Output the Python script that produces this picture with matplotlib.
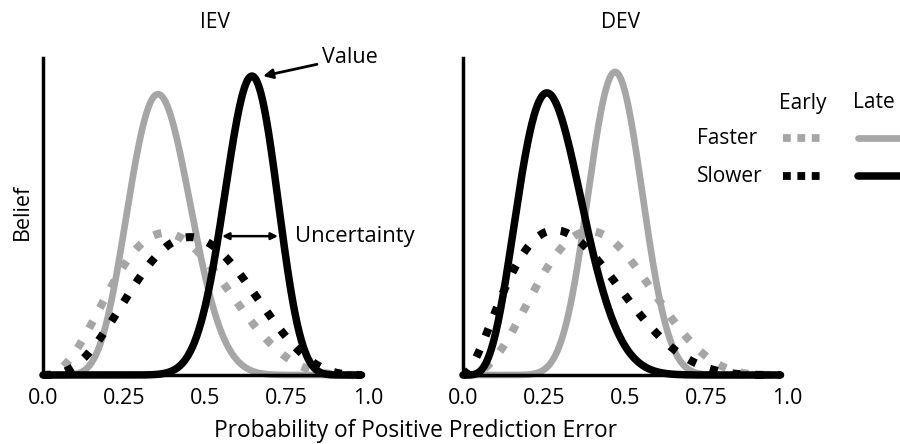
import numpy as np
import matplotlib
matplotlib.use("Agg")
import matplotlib.pyplot as plt
from matplotlib.lines import Line2D

plt.rcParams['font.family'] = ['Open Sans', 'DejaVu Sans']

# belief curves: Beta(a, b) shapes, scaled to the peak height
panels = ['IEV', 'DEV']
curve_names = ['Faster Early', 'Slower Early', 'Faster Late', 'Slower Late']
iev_a = [3.51, 3.94, 9.67, 23.5]
iev_b = [5.19, 4.56, 16.83, 13.5]
iev_peak = [0.448, 0.435, 0.886, 0.943]
dev_a = [3.78, 2.76, 17.9, 5.87]
dev_b = [5.32, 5.44, 20.1, 14.93]
dev_peak = [0.454, 0.457, 0.956, 0.890]

x_ticks = [0.0, 0.25, 0.5, 0.75, 1.0]
x_tick_labels = ['0.0', '0.25', '0.5', '0.75', '1.0']

GRAY = '#a6a6a6'
styles = {
    'Faster Early': dict(color=GRAY, dotted=True),
    'Slower Early': dict(color='black', dotted=True),
    'Faster Late': dict(color=GRAY, dotted=False),
    'Slower Late': dict(color='black', dotted=False),
}
draw_order = ['Faster Late', 'Faster Early', 'Slower Early', 'Slower Late']

W, H = 900, 444


def fx(px):
    return px / W


def fy(py):
    return 1 - py / H


def belief(x, a, b, peak):
    k = x ** (a - 1) * (1 - x) ** (b - 1)
    return peak * k / k.max()


def draw_panel(ax, a_list, b_list, peaks):
    x = np.linspace(0, 0.98, 600)
    for name in draw_order:
        i = curve_names.index(name)
        st = styles[name]
        y = belief(x, a_list[i], b_list[i], peaks[i])
        if st['dotted']:
            ax.plot(x, y, color=st['color'], lw=5.8, linestyle=(0, (1, 1.85)),
                    dash_capstyle='butt', clip_on=False)
        else:
            lw = 5.4 if st['color'] == 'black' else 4.8
            ax.plot(x, y, color=st['color'], lw=lw, solid_capstyle='round',
                    clip_on=False)
    ax.set_xlim(0, 1)
    ax.set_ylim(0, 1)
    for s in ['top', 'right']:
        ax.spines[s].set_visible(False)
    ax.spines['left'].set_linewidth(2.5)
    ax.spines['bottom'].set_linewidth(2.5)
    ax.spines['bottom'].set_bounds(0, 0.98)
    ax.set_yticks([])
    ax.set_xticks(x_ticks)
    ax.set_xticklabels(x_tick_labels)
    ax.tick_params(axis='x', length=0, pad=9, labelsize=15.5)
    ax.patch.set_visible(False)


fig = plt.figure(figsize=(9, 4.44), dpi=100)
ax1 = fig.add_axes([fx(43), fy(375), 325 / W, 317 / H])
ax2 = fig.add_axes([fx(463), fy(375), 324 / W, 317 / H])

draw_panel(ax1, iev_a, iev_b, iev_peak)
draw_panel(ax2, dev_a, dev_b, dev_peak)

fig.text(fx(215), fy(23), panels[0], ha='center', va='center', fontsize=15)
fig.text(fx(621), fy(23), panels[1], ha='center', va='center', fontsize=15)
fig.text(fx(415), fy(431), 'Probability of Positive Prediction Error',
         ha='center', va='center', fontsize=16.4)
fig.text(fx(22), fy(212), 'Belief', ha='center', va='center',
         rotation=90, fontsize=15.5)

# annotations on the IEV panel
ax1.annotate('Value', xy=(0.677, 0.943), xytext=(0.86, 1.003),
             ha='left', va='center', fontsize=15.5, annotation_clip=False,
             arrowprops=dict(arrowstyle='-|>', color='black', lw=2,
                             mutation_scale=14, shrinkA=2, shrinkB=0))
ax1.annotate('', xy=(0.551, 0.438), xytext=(0.723, 0.438),
             annotation_clip=False,
             arrowprops=dict(arrowstyle='<|-|>', color='black', lw=1.8,
                             mutation_scale=10, shrinkA=0, shrinkB=0))
ax1.text(0.775, 0.438, 'Uncertainty', ha='left', va='center', fontsize=15.8)

# hand-built key: rows are speed groups, columns are phases
fig.text(fx(803), fy(103), 'Early', ha='center', va='center', fontsize=15)
fig.text(fx(874), fy(103), 'Late', ha='center', va='center', fontsize=15)
fig.text(fx(697), fy(138), 'Faster', ha='left', va='center', fontsize=15)
fig.text(fx(697), fy(176), 'Slower', ha='left', va='center', fontsize=15)
for row_y, col in [(138, GRAY), (176, 'black')]:
    fig.add_artist(Line2D([fx(783), fx(823)], [fy(row_y), fy(row_y)],
                          transform=fig.transFigure, color=col, lw=5.6,
                          linestyle=(0, (1, 0.85)), dash_capstyle='butt'))
    fig.add_artist(Line2D([fx(858), fx(905)], [fy(row_y), fy(row_y)],
                          transform=fig.transFigure, color=col,
                          lw=5.4 if col == 'black' else 4.8,
                          solid_capstyle='round'))

fig.savefig('out.png', dpi=100)
